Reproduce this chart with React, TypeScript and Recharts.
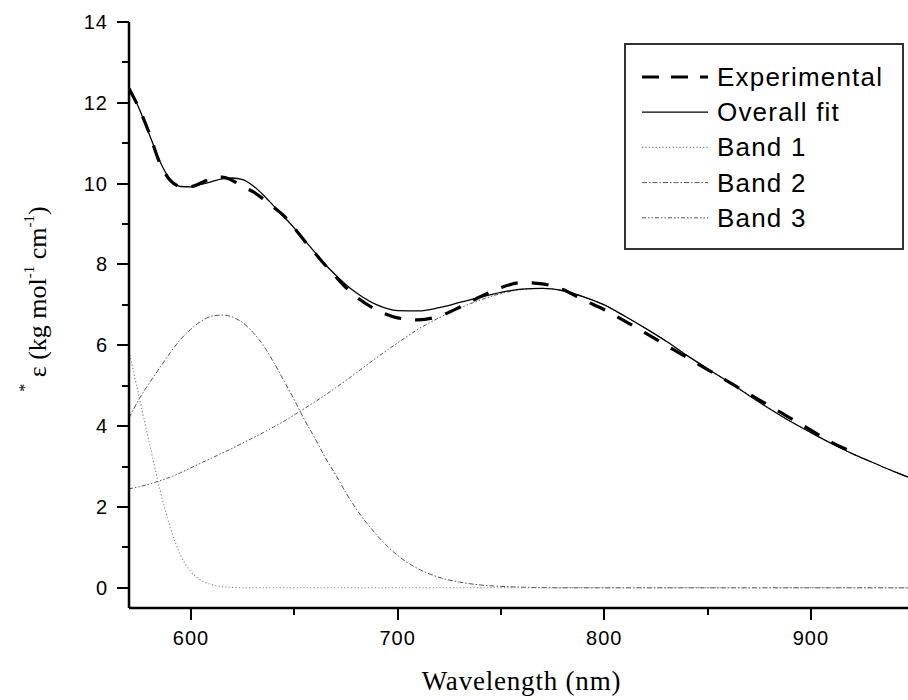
import { LineChart, Line, XAxis, YAxis, Legend, Label } from "recharts"

// wavelength grid (nm)
const wavelengths = [
  570, 575, 580, 585, 590, 595, 600, 605, 610, 615, 620, 625, 630, 635, 640, 645, 650, 655, 660, 665,
  670, 675, 680, 690, 700, 710, 720, 730, 740, 750, 760, 770, 780, 790, 800, 810, 820, 830, 840, 850,
  860, 870, 880, 890, 900, 910, 920, 930, 940, 947,
]

const experimental = [
  12.35, 11.85, 11.22, 10.5, 10.08, 9.93, 9.93, 10.02, 10.13, 10.16, 10.08, 9.93, 9.8, 9.62, 9.42, 9.2, 8.9, 8.58, 8.28, 7.98,
  7.7, 7.43, 7.2, 6.87, 6.68, 6.63, 6.72, 6.94, 7.2, 7.43, 7.55, 7.52, 7.38, 7.12, 6.88, 6.6, 6.3, 6.0, 5.7, 5.4,
  5.1, 4.8, 4.5, 4.2, 3.9, 3.6, 3.36, null, null, null,
]

const overallFit = [
  12.4, 11.85, 11.2, 10.55, 10.1, 9.93, 9.92, 9.98, 10.05, 10.12, 10.14, 10.1, 9.95, 9.72, 9.45, 9.18, 8.9, 8.6, 8.3, 8.0,
  7.74, 7.5, 7.3, 7.0, 6.86, 6.85, 6.93, 7.06, 7.19, 7.31, 7.39, 7.41, 7.35, 7.2, 7.0, 6.72, 6.42, 6.1, 5.75, 5.42,
  5.1, 4.76, 4.43, 4.12, 3.84, 3.57, 3.32, 3.1, 2.88, 2.74,
]

const band1 = [
  5.85, 4.7, 3.55, 2.42, 1.49, 0.8, 0.4, 0.18, 0.08, 0.03, 0.01, 0, 0, 0, 0, 0, 0, 0, 0, 0,
  0, 0, 0, 0, 0, 0, 0, 0, 0, 0, 0, 0, 0, 0, 0, 0, 0, 0, 0, 0,
  0, 0, 0, 0, 0, 0, 0, 0, 0, 0,
]

const band2 = [
  4.2, 4.68, 5.08, 5.45, 5.82, 6.15, 6.4, 6.6, 6.72, 6.75, 6.7, 6.56, 6.32, 6.0, 5.58, 5.12, 4.65, 4.15, 3.7, 3.22,
  2.8, 2.35, 1.95, 1.3, 0.8, 0.47, 0.26, 0.14, 0.07, 0.035, 0.015, 0.005, 0, 0, 0, 0, 0, 0, 0, 0,
  0, 0, 0, 0, 0, 0, 0, 0, 0, 0,
]

const band3 = [
  2.45, 2.5, 2.57, 2.65, 2.74, 2.85, 2.97, 3.09, 3.21, 3.33, 3.45, 3.58, 3.71, 3.84, 3.98, 4.12, 4.28, 4.44, 4.6, 4.77,
  4.95, 5.13, 5.32, 5.7, 6.06, 6.4, 6.68, 6.92, 7.12, 7.28, 7.38, 7.41, 7.35, 7.2, 7.0, 6.72, 6.42, 6.1, 5.75, 5.42,
  5.1, 4.76, 4.43, 4.12, 3.84, 3.57, 3.32, 3.1, 2.88, 2.74,
]

const xTicks = [600, 650, 700, 750, 800, 850, 900]
const yTicks = [0, 1, 2, 3, 4, 5, 6, 7, 8, 9, 10, 11, 12, 13, 14]

const data = wavelengths.map((wl, i) => ({
  wl,
  exp: experimental[i],
  fit: overallFit[i],
  b1: band1[i],
  b2: band2[i],
  b3: band3[i],
}))

const SANS = "'Liberation Sans', Arial, sans-serif"
const SERIF = "'Liberation Serif', 'Times New Roman', serif"

const series = [
  { key: "exp", name: "Experimental", color: "#000", width: 3.2, dash: "17 14", legendDash: "17 12" },
  { key: "fit", name: "Overall fit", color: "#000", width: 1.3, dash: undefined, legendDash: undefined },
  { key: "b1", name: "Band 1", color: "#808080", width: 1.1, dash: "1.2 2.2", legendDash: "1.2 2.2" },
  { key: "b2", name: "Band 2", color: "#555", width: 1, dash: "5 2 1.5 2", legendDash: "5 2 1.5 2" },
  { key: "b3", name: "Band 3", color: "#555", width: 1, dash: "4 2 1.5 2 1.5 2", legendDash: "4 2 1.5 2 1.5 2" },
]

function XTick(props: any) {
  const { x, y, payload } = props
  const major = payload.value % 100 === 0
  return (
    <g>
      <line
        x1={x}
        x2={x}
        y1={y}
        y2={y + (major ? 12 : 7)}
        stroke="#000"
        strokeWidth={2}
        shapeRendering="crispEdges"
      />
      {major && (
        <text x={x} y={y + 37} textAnchor="middle" fontSize={20} letterSpacing={1} fontFamily={SANS} fill="#000">
          {payload.value}
        </text>
      )}
    </g>
  )
}

function YTick(props: any) {
  const { x, y, payload } = props
  const major = payload.value % 2 === 0
  return (
    <g>
      <line
        x1={x - (major ? 12 : 7)}
        x2={x}
        y1={y}
        y2={y}
        stroke="#000"
        strokeWidth={2}
        shapeRendering="crispEdges"
      />
      {major && (
        <text x={x - 21} y={y + 7} textAnchor="end" fontSize={20} letterSpacing={1} fontFamily={SANS} fill="#000">
          {payload.value}
        </text>
      )}
    </g>
  )
}

function XTitle(props: any) {
  const { viewBox } = props
  return (
    <text
      x={viewBox.x + viewBox.width / 2 + 3}
      y={viewBox.y + 82}
      textAnchor="middle"
      fontSize={27}
      letterSpacing={0.8}
      fontFamily={SERIF}
      fill="#000"
    >
      Wavelength (nm)
    </text>
  )
}

function YTitle(props: any) {
  const { viewBox } = props
  const cx = 46
  const cy = viewBox.y + viewBox.height / 2 - 16
  return (
    <text
      x={cx}
      y={cy}
      transform={`rotate(-90, ${cx}, ${cy})`}
      textAnchor="middle"
      fontSize={26}
      fontFamily={SERIF}
      fill="#000"
    >
      <tspan fontSize={16} dy={-16}>*</tspan>
      <tspan dy={16}>{" ε (kg mol"}</tspan>
      <tspan fontSize={15} dy={-12}>-1</tspan>
      <tspan dy={12}>{"  cm"}</tspan>
      <tspan fontSize={15} dy={-12}>-1</tspan>
      <tspan dy={12}>)</tspan>
    </text>
  )
}

function LegendBox() {
  return (
    <div
      style={{
        width: 280,
        height: 207,
        border: "2px solid #333",
        boxSizing: "border-box",
        background: "#fff",
      }}
    >
      <svg width={276} height={203} style={{ display: "block" }}>
        {series.map((s, i) => {
          const cy = 32 + i * 35.2
          return (
            <g key={s.key}>
              <line
                x1={16}
                x2={82}
                y1={cy}
                y2={cy}
                stroke={s.color}
                strokeWidth={s.width}
                strokeDasharray={s.legendDash}
              />
              <text x={91} y={cy + 9} fontSize={26} letterSpacing={1.2} fontFamily={SANS} fill="#000">
                {s.name}
              </text>
            </g>
          )
        })}
      </svg>
    </div>
  )
}

export default function App() {
  return (
    <div style={{ position: "absolute", left: 0, top: 0, width: 908, height: 700, background: "#fff" }}>
      <LineChart width={908} height={700} data={data} margin={{ top: 22, right: 0, bottom: 0, left: 0 }}>
        <XAxis
          dataKey="wl"
          type="number"
          domain={[570, 947]}
          allowDataOverflow
          ticks={xTicks}
          tick={<XTick />}
          tickLine={false}
          tickSize={0}
          tickMargin={0}
          axisLine={{ stroke: "#000", strokeWidth: 2.5 }}
          height={92}
          interval={0}
        >
          <Label content={<XTitle />} />
        </XAxis>
        <YAxis
          type="number"
          domain={[-0.5, 14]}
          allowDataOverflow
          ticks={yTicks}
          tick={<YTick />}
          tickLine={false}
          tickSize={0}
          tickMargin={0}
          axisLine={{ stroke: "#000", strokeWidth: 2.5 }}
          width={129}
          interval={0}
        >
          <Label content={<YTitle />} />
        </YAxis>
        <Legend
          layout="vertical"
          align="center"
          verticalAlign="middle"
          content={<LegendBox />}
          wrapperStyle={{ position: "absolute", left: 624, top: 43, width: 280, height: 207 }}
        />
        {series
          .slice()
          .reverse()
          .map((s) => (
            <Line
              key={s.key}
              dataKey={s.key}
              name={s.name}
              type="monotone"
              stroke={s.color}
              strokeWidth={s.width}
              strokeDasharray={s.dash}
              dot={false}
              activeDot={false}
              isAnimationActive={false}
              connectNulls={false}
            />
          ))}
      </LineChart>
    </div>
  )
}
